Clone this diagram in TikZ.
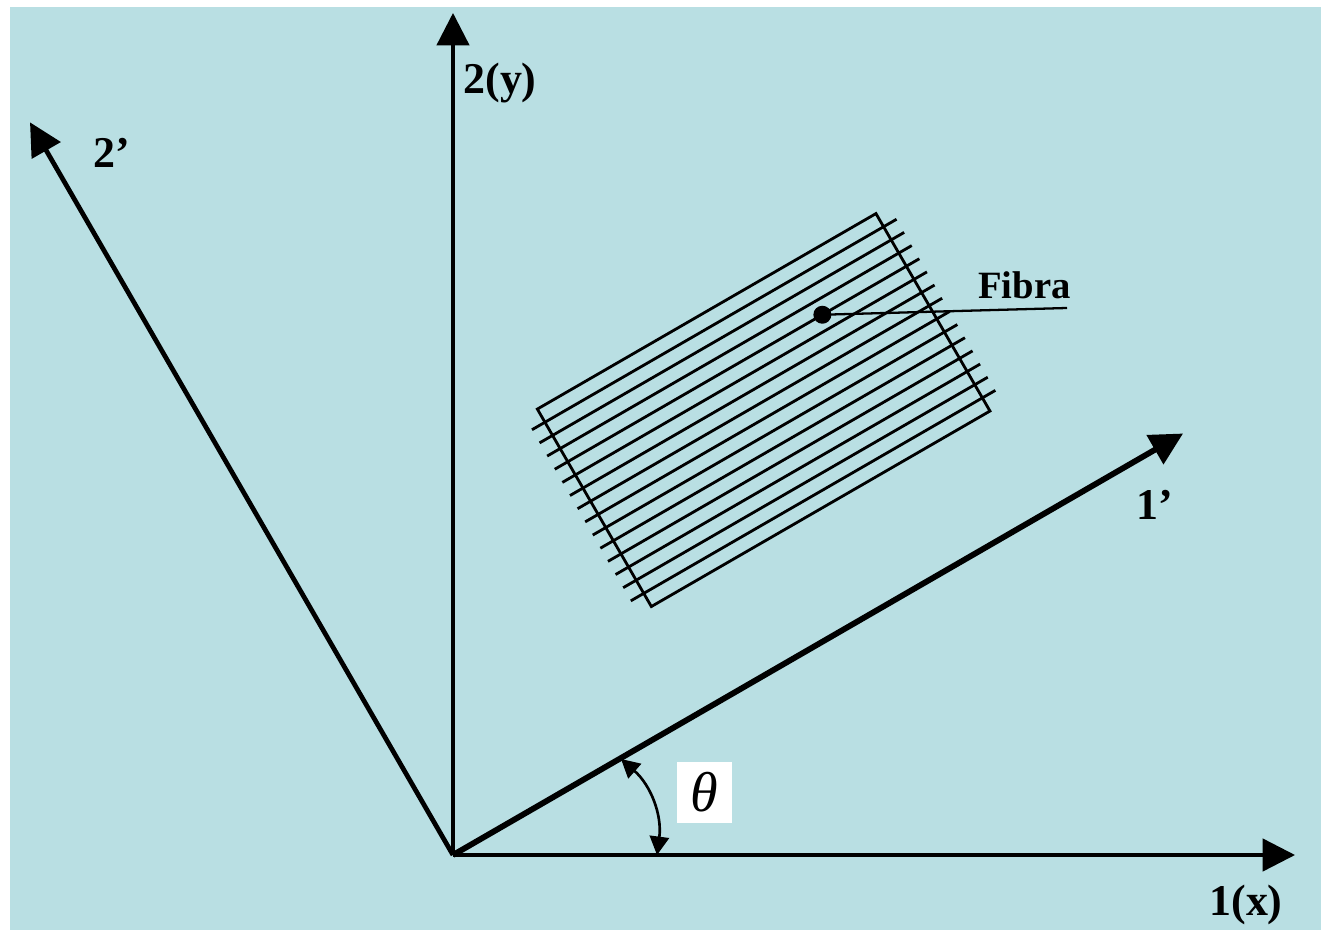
\documentclass[tikz,border=0pt]{standalone}
\usepackage{fontspec}
\setmainfont{Liberation Serif}
\usetikzlibrary{arrows.meta,calc,positioning}
\definecolor{bgblue}{HTML}{B9DFE3}

\begin{document}
\begin{tikzpicture}[x=0.02cm,y=0.02cm,>={Triangle[length=18.5pt,width=18.5pt]},
  axislabel/.style={font=\fontsize{25}{30}\selectfont\bfseries},
  fiberline/.style={line width=1.6pt}]
  % Canvas
  \useasboundingbox (0,0) rectangle (1321,930);
  \fill[bgblue] (10,0) rectangle (1321,923);
  % Axes
  \coordinate (O) at (453,75);
  \coordinate (xtip) at (1295,75);
  \coordinate (ytip) at (453,917);
  \coordinate (onetip) at ($(O)+(30:843)$);
  \coordinate (twotip) at ($(O)+(120:846)$);
  \draw[->,line width=1.9pt] (O) -- (xtip);
  \draw[->,line width=1.9pt] (O) -- (ytip);
  \draw[->,line width=3.3pt] (O) -- (onetip);
  \draw[->,line width=2.7pt] (O) -- (twotip);
  \node[axislabel] (xlab) at (1246,25) {1(x)};
  \node[axislabel] (ylab) at (500,847) {2(y)};
  \node[axislabel] (onelab) at (1155,425) {1’};
  \node[axislabel] (twolab) at (112,777) {2’};
  % Angle theta
  \coordinate (tha) at (657,75);
  \coordinate (thb) at (621,171);
  \draw[<->,line width=1.5pt,>={Triangle[length=10.5pt,width=11pt]}] (tha) to[bend right=28] (thb);
  \node[fill=white,minimum width=1.1cm,minimum height=1.22cm,font=\fontsize{32}{36}\selectfont\itshape] (theta) at (704.5,137.5) {θ};
  % Fibers (rotated frame)
  \begin{scope}[shift={(O)},rotate=30]
    \draw[fiberline] (296,116) rectangle (687,344);
    \foreach \k in {1,...,14}{\draw[fiberline] (281,116+\k*15.2) -- (702,116+\k*15.2);}
    \node[circle,fill=black,inner sep=0pt,minimum size=0.36cm] (dot) at (590,283.2) {};
  \end{scope}
  \coordinate (leadend) at (1067,622);
  \draw[line width=1.3pt] (dot.center) -- (leadend);
  \node[font=\fontsize{22}{26}\selectfont\bfseries] (fibra) at (1024.5,645) {Fibra};
\end{tikzpicture}
\end{document}
